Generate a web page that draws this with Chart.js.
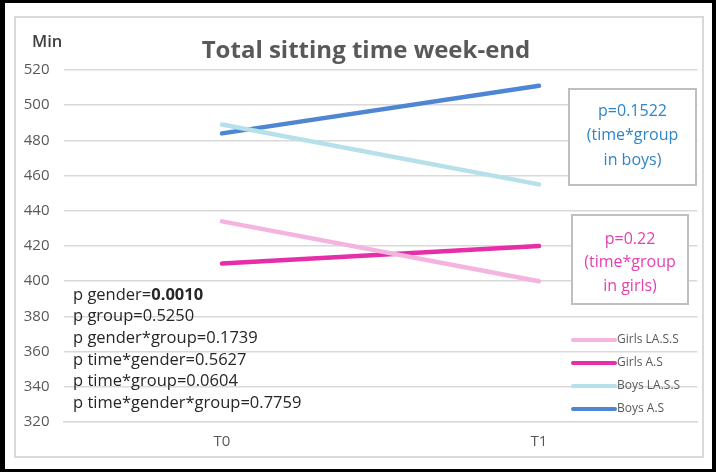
<!DOCTYPE html>
<html>
<head>
<meta charset="utf-8">
<script src="https://cdn.jsdelivr.net/npm/chart.js@4"></script>
<style>
  body { margin: 0; background: #fff; }
  #wrap { position: relative; width: 716px; height: 472px; }
</style>
</head>
<body>
<div id="wrap"><canvas id="chart"></canvas></div>
<script>
// data
const categories = ["T0", "T1"];
const girlsLASS = [434, 400];
const girlsAS = [410, 420];
const boysLASS = [489, 455];
const boysAS = [484, 511];
const yMin = 320, yMax = 520, yStep = 20;

const statLines = [
  ["p gender=", "0.0010"],
  ["p group=0.5250", ""],
  ["p gender*group=0.1739", ""],
  ["p time*gender=0.5627", ""],
  ["p time*group=0.0604", ""],
  ["p time*gender*group=0.7759", ""],
];
const boysNote = ["p=0.1522", "(time*group", "in boys)"];
const girlsNote = ["p=0.22", "(time*group", "in girls)"];

const FONT = "'Open Sans', Lato, sans-serif";

// frame + annotations drawn on the canvas
const decor = {
  id: "decor",
  beforeDraw(chart) {
    const ctx = chart.ctx;
    ctx.save();
    ctx.fillStyle = "#fff";
    ctx.fillRect(0, 0, chart.width, chart.height);
    ctx.strokeStyle = "#d9d9d9";
    ctx.lineWidth = 2;
    ctx.strokeRect(15, 17, 688, 440);
    ctx.fillStyle = "#000";
    ctx.fillRect(0, 0, 5, 472);
    ctx.fillRect(0, 0, 716, 3);
    ctx.fillRect(0, 469, 716, 3);
    ctx.fillRect(712, 0, 4, 472);
    ctx.restore();
  },
  afterDraw(chart) {
    const ctx = chart.ctx;
    ctx.save();
    // title
    ctx.fillStyle = "#595959";
    ctx.textAlign = "center";
    ctx.textBaseline = "middle";
    ctx.font = "bold 24px " + FONT;
    ctx.fillText("Total sitting time week-end", 366, 51);
    // axis unit
    ctx.font = "600 16.5px " + FONT;
    ctx.fillStyle = "#404040";
    ctx.textAlign = "left";
    ctx.fillText("Min", 32, 42);

    // p-values block
    ctx.fillStyle = "#262626";
    statLines.forEach(([a, b], i) => {
      const y = 295 + i * 21.6;
      ctx.font = "16.5px " + FONT;
      ctx.fillText(a, 73, y);
      if (b) {
        const w = ctx.measureText(a).width;
        ctx.font = "bold 16.5px " + FONT;
        ctx.fillText(b, 73 + w, y);
      }
    });

    // note boxes
    const box = (x, y, w, h, lines, color, y0, step) => {
      ctx.fillStyle = "#fff";
      ctx.fillRect(x, y, w, h);
      ctx.strokeStyle = "#bfbfbf";
      ctx.lineWidth = 2;
      ctx.strokeRect(x, y, w, h);
      ctx.fillStyle = color;
      ctx.font = "16px " + FONT;
      ctx.textAlign = "center";
      lines.forEach((t, i) => ctx.fillText(t, x + w / 2, y0 + i * step));
    };
    box(569, 89, 127, 96, boysNote, "#2e86c8", 111, 24.5);
    box(572, 215, 116, 89, girlsNote, "#e540b0", 239, 23.5);

    // legend
    ctx.textAlign = "left";
    ctx.font = "12px " + FONT;
    chart.data.datasets.forEach((ds, i) => {
      const y = 340 + i * 23;
      ctx.strokeStyle = ds.borderColor;
      ctx.lineWidth = 4;
      ctx.lineCap = "round";
      ctx.beginPath();
      ctx.moveTo(573, y);
      ctx.lineTo(615, y);
      ctx.stroke();
      ctx.fillStyle = "#595959";
      ctx.fillText(ds.label, 617, y);
    });
    ctx.restore();
  },
};

const lineStyle = {
  borderWidth: 4.5,
  pointRadius: 0,
  borderCapStyle: "round",
  fill: false,
  tension: 0,
};

new Chart(document.getElementById("chart").getContext("2d"), {
  type: "line",
  data: {
    labels: categories,
    datasets: [
      { label: "Girls LA.S.S", data: girlsLASS, borderColor: "#f5b3df", ...lineStyle },
      { label: "Girls A.S", data: girlsAS, borderColor: "#e62ea8", ...lineStyle },
      { label: "Boys LA.S.S", data: boysLASS, borderColor: "#b6e0ea", ...lineStyle },
      { label: "Boys A.S", data: boysAS, borderColor: "#4f86d3", ...lineStyle },
    ],
  },
  options: {
    responsive: true,
    maintainAspectRatio: false,
    animation: false,
    layout: { padding: { left: 0, top: 70, right: 18.5, bottom: 0 } },
    plugins: {
      legend: { display: false },
      title: { display: false },
      tooltip: { enabled: false },
    },
    scales: {
      x: {
        offset: true,
        grid: { display: false, drawTicks: false },
        border: { display: true, color: "#d9d9d9", width: 1.5 },
        ticks: { color: "#595959", font: { family: FONT, size: 15 }, padding: 11 },
        afterFit: (s) => { s.height = 50; },
      },
      y: {
        min: yMin,
        max: yMax,
        grid: { color: "#d9d9d9", lineWidth: 1.5, drawTicks: false },
        border: { display: false },
        ticks: { stepSize: yStep, color: "#595959", font: { family: FONT, size: 15 }, padding: 14 },
        afterFit: (s) => { s.width = 63.5; },
      },
    },
  },
  plugins: [decor],
});
</script>
</body>
</html>
